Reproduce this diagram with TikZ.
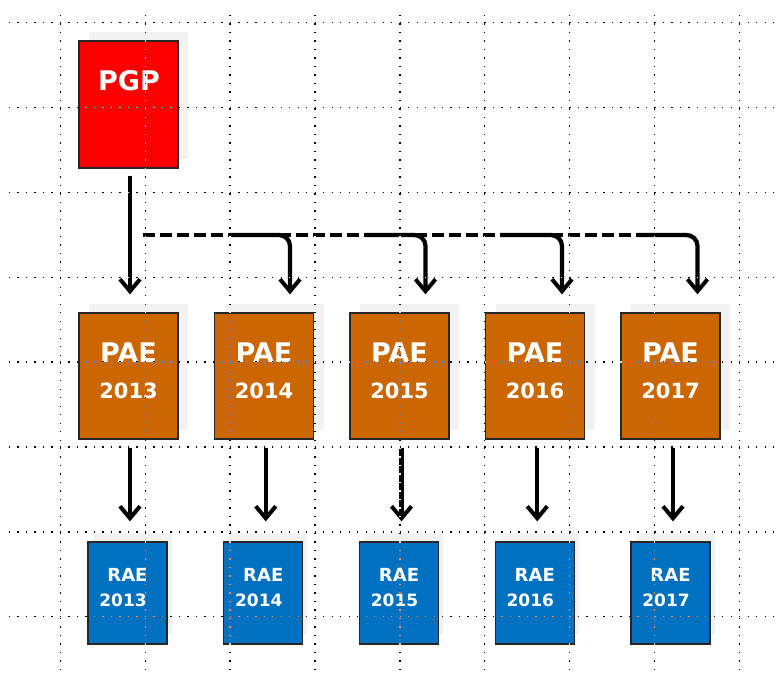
\documentclass[tikz,border=0pt]{standalone}
\usepackage{fontspec}
\setmainfont{DejaVu Sans}
\usetikzlibrary{arrows.meta,shadows}
\definecolor{pgpred}{RGB}{255,0,0}
\definecolor{paeorange}{RGB}{204,102,0}
\definecolor{raeblue}{RGB}{0,112,192}
\definecolor{shadowgray}{RGB}{242,242,242}
\tikzset{
  boxbase/.style={draw=black!85, line width=1.3pt, inner sep=0pt, rectangle},
  pgpbox/.style={boxbase, fill=pgpred, minimum width=99pt, minimum height=127pt,
    general shadow={fill=shadowgray, draw=none, shadow xshift=10pt, shadow yshift=9pt}},
  paebox/.style={boxbase, fill=paeorange, minimum width=99pt, minimum height=126pt,
    general shadow={fill=shadowgray, draw=none, shadow xshift=10pt, shadow yshift=9pt}},
  raebox/.style={boxbase, fill=raeblue, minimum width=79pt, minimum height=102pt,
    general shadow={fill=shadowgray, draw=none, shadow xshift=4.5pt, shadow yshift=9pt}},
  bigtxt/.style={text=white, inner sep=0pt, anchor=base, font=\fontsize{27pt}{30pt}\selectfont\bfseries},
  yeartxt/.style={text=white, inner sep=0pt, anchor=base, font=\fontsize{21pt}{24pt}\selectfont\bfseries},
  raetxt/.style={text=white, inner sep=0pt, anchor=base, font=\fontsize{18pt}{20pt}\selectfont\bfseries},
  raeyeartxt/.style={text=white, inner sep=0pt, anchor=base, font=\fontsize{17pt}{20pt}\selectfont\bfseries},
  arr/.style={line width=4.3pt, -{Straight Barb[length=12pt,width=20pt,line width=4pt]}},
  dashline/.style={line width=4.3pt, dash pattern=on 12pt off 5pt},
  gridline/.style={white, line width=1.3pt, dash pattern=on 1.3pt off 7.19pt},
}
\begin{document}
\begin{tikzpicture}[x=1pt,y=-1pt]
\useasboundingbox (0,0) rectangle (777,673);
\fill[white] (0,0) rectangle (777,673);

% PGP
\node[pgpbox] (pgp) at (128.5,104.5) {};
\node[bigtxt] (pgpt) at ([xshift=0.5pt,yshift=14pt]pgp.center) {PGP};

% PAE and RAE boxes
\foreach \k/\yr in {0/2013,1/2014,2/2015,3/2016,4/2017}{
  \node[paebox] (pae\k) at (128.5+135.5*\k,376) {};
  \node[bigtxt] (pae\k t) at ([yshift=14pt]pae\k.center) {PAE};
  \node[yeartxt] (pae\k y) at ([yshift=-22pt]pae\k.center) {\yr};
  \node[raebox] (rae\k) at (127.5+135.75*\k,593) {};
  \node[raetxt] (rae\k t) at ([yshift=12pt]rae\k.center) {RAE};
  \node[raeyeartxt] (rae\k y) at ([xshift=-4.5pt,yshift=-13pt]rae\k.center) {\yr};
}

% dashed distribution line
\coordinate (dstart) at (143,235);
\coordinate (dend) at (660,235);
\draw[dashline] (dstart) -- (dend);

% PGP -> PAE 2013
\draw[arr] ([xshift=1.5pt,yshift=-7pt]pgp.south) -- ([xshift=1.5pt,yshift=18pt]pae0.north);

% branches
\coordinate (br1) at (230,235);
\coordinate (br2) at (365,235);
\coordinate (br3) at (500,235);
\coordinate (br4) at (637,235);
\draw[arr, rounded corners=11pt] (br1) -| ([xshift=26pt,yshift=18pt]pae1.north);
\draw[arr, rounded corners=11pt] (br2) -| ([xshift=26pt,yshift=18pt]pae2.north);
\draw[arr, rounded corners=11pt] (br3) -| ([xshift=27pt,yshift=18pt]pae3.north);
\draw[arr, rounded corners=11pt] (br4) -| ([xshift=27pt,yshift=18pt]pae4.north);

% PAE -> RAE
\foreach \k in {0,...,4}{
  \draw[arr] ([xshift=2.5pt,yshift=-8pt]rae\k.north |- pae\k.south) -- ([xshift=2.5pt,yshift=20pt]rae\k.north);
}

% dotted grid, drawn on top with inverted colours
\begin{scope}[blend mode=difference]
\foreach \i in {0,...,7}{
  \draw[gridline] (9,22.5+84.9*\i) -- (777,22.5+84.9*\i);
}
\foreach \i in {0,...,8}{
  \draw[gridline] (60.3+84.9*\i,15) -- (60.3+84.9*\i,673);
}
\end{scope}
\end{tikzpicture}
\end{document}
